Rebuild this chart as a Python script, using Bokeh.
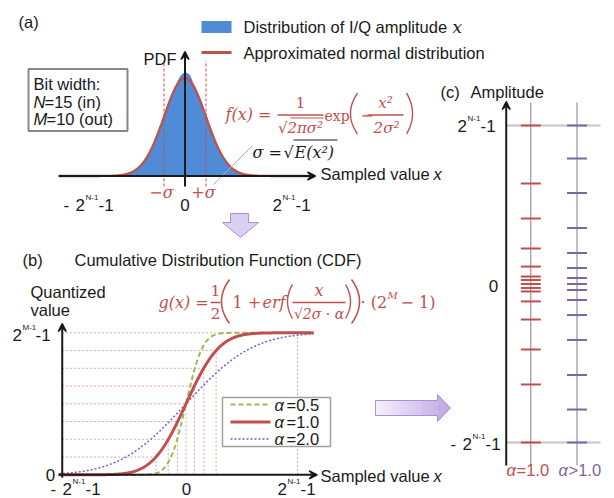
import math
import numpy as np
from bokeh.plotting import figure
from bokeh.models import Range1d, Arrow, VeeHead
from bokeh.core.properties import value
from bokeh.embed import file_html
from bokeh.resources import INLINE

# ---------------- data ----------------
# (a) PDF: amplitude normalised to 2^(N-1)-1, density normalised to the fitted peak
N_BITS_IN = 15
M_BITS_OUT = 10
SIGMA_A = 0.2
HIST_X = list(np.round(np.linspace(-0.7, 0.7, 57), 4))
HIST_Y = [0.003, 0.004, 0.006, 0.009, 0.012, 0.018, 0.025, 0.035, 0.047, 0.064,
          0.085, 0.110, 0.142, 0.180, 0.226, 0.277, 0.335, 0.398, 0.468, 0.540,
          0.612, 0.688, 0.762, 0.840, 0.905, 0.960, 1.015, 1.045, 1.060, 1.050,
          1.030, 0.960, 0.890, 0.822, 0.745, 0.670, 0.600, 0.530, 0.460, 0.392,
          0.330, 0.272, 0.222, 0.178, 0.140, 0.108, 0.083, 0.062, 0.046, 0.034,
          0.024, 0.017, 0.012, 0.008, 0.005, 0.004, 0.002]

# (b) CDF: quantised value normalised to 2^(M-1)-1
SIGMA_B = 0.235
ALPHAS = [0.5, 1.0, 2.0]
ALPHA_LABELS = ["=0.5", "=1.0", "=2.0"]
QUANT_LEVELS = [0.125, 0.25, 0.375, 0.5, 0.625, 0.75, 0.875, 1.0]
LEVEL_X = [-0.27, -0.16, -0.075, 0.0, 0.075, 0.16, 0.27, 1.0]

# (c) reconstructed amplitude levels, normalised to 2^(N-1)-1
LEVELS_ALPHA1 = [-1.0, -0.634, -0.413, -0.224, -0.110, -0.047, -0.025, 0.0,
                 0.025, 0.047, 0.110, 0.224, 0.413, 0.634, 1.0]
LEVELS_ALPHA_GT1 = [-1.0, -0.792, -0.574, -0.353, -0.196, -0.101, -0.038, 0.0,
                    0.038, 0.101, 0.196, 0.353, 0.574, 0.792, 1.0]

# ---------------- style ----------------
INK = "#1a1a1a"
RED = "#c0504d"
BLUE = "#4f8bd6"
GREEN = "#9bbb59"
VIOLET = "#6f60c8"
PURPLE = "#8064a2"
GRID = "#e8a0a0"
SANS = "Liberation Sans"
SERIF = "DejaVu Serif"
FS = 16.5

W, H = 614, 498
p = figure(width=W, height=H, x_range=Range1d(0, W), y_range=Range1d(H, 0),
           x_axis_location=None, y_axis_location=None,
           output_backend="svg", toolbar_location=None, min_border=0)
p.grid.visible = False
p.outline_line_color = None


def lin_range(p0, v0, p1, v1, pa, pb):
    k = (v1 - v0) / (p1 - p0)
    return Range1d(start=v0 + (pa - p0) * k, end=v0 + (pb - p0) * k)


p.extra_x_ranges = {
    "xa": lin_range(184.5, 0.0, 289.5, 1.0, 0, W),
    "xb": lin_range(185.5, 0.0, 297.0, 1.0, 0, W),
    "xc": lin_range(530.3, 0.0, 576.5, 1.0, 0, W),
}
p.extra_y_ranges = {
    "ya": lin_range(175.5, 0.0, 77.7, 1.0, H, 0),
    "yb": lin_range(474.3, 0.0, 332.3, 1.0, H, 0),
    "yc": lin_range(283.5, 0.0, 125.0, 1.0, H, 0),
}
A = dict(x_range_name="xa", y_range_name="ya")
B = dict(x_range_name="xb", y_range_name="yb")
C = dict(x_range_name="xc", y_range_name="yc")


def T(x, y, s, size=FS, color=INK, font=SANS, style="normal", align="left"):
    p.text(x=[x], y=[y], text=[s], text_font=value(font),
           text_font_size=value(f"{size}px"), text_font_style=style,
           text_color=color, text_align=align, text_baseline="middle")


def pow_label(x2, y, sup, minus=False, color=INK):
    if minus:
        T(x2 - 12, y, "-", 17, color)
    T(x2, y, "2", 17, color)
    T(x2 + 10, y - 7, sup, 8, color)
    T(x2 + 23, y, "-1", 17, color)


def arrow(x0, y0, x1, y1, rng, lw=2):
    p.add_layout(Arrow(end=VeeHead(size=8, line_width=1.5, line_color=INK),
                       x_start=x0, y_start=y0, x_end=x1, y_end=y1,
                       line_width=lw, line_color=INK, **rng))


def paren(x0, x1, yc, h, side, color, lw=1.4):
    t = np.linspace(-1, 1, 41)
    ys = yc + t * h / 2
    bulge = 1 - t ** 2
    xs = x1 - (x1 - x0) * bulge if side == "(" else x0 + (x1 - x0) * bulge
    p.line(xs, ys, line_color=color, line_width=lw)


def seg(x0, y0, x1, y1, color, lw=1.0):
    p.segment(x0=[x0], y0=[y0], x1=[x1], y1=[y1], line_color=color, line_width=lw)


# ================= panel (a) =================
p.varea(x=HIST_X, y1=[0] * len(HIST_X), y2=HIST_Y, fill_color=BLUE, **A)
arrow(-1.205, 0, 1.243, 0, A)
arrow(0, -0.107, 0, 1.273, A)
xa = np.linspace(-1.2, 1.2, 481)
p.line(xa, np.exp(-xa ** 2 / (2 * SIGMA_A ** 2)), line_color=RED, line_width=2.3, **A)
p.segment(x0=[-SIGMA_A, SIGMA_A], y0=[-0.107, -0.107], x1=[-SIGMA_A, SIGMA_A],
          y1=[1.18, 1.18], line_color=RED, line_width=1, line_dash="3 2", **A)

T(18, 21, "(a)")
p.quad(left=[201], right=[231], top=[20.5], bottom=[32.5], fill_color=BLUE, line_color=None)
seg(201, 52, 231, 52, RED, 3)
T(243, 26.5, "Distribution of I/Q amplitude")
T(452, 26.5, "x", 17, INK, SERIF, "italic")
T(243, 52, "Approximated normal distribution")
T(176, 58, "PDF", align="right")

p.quad(left=[28], right=[127], top=[68.5], bottom=[130.5], fill_color="white",
       line_color="#888888", line_width=2)
T(33, 83, "Bit width:")
T(33, 101, "N", style="italic")
T(44, 101, f"={N_BITS_IN} (in)")
T(33, 118, "M", style="italic")
T(46, 118, f"={M_BITS_OUT} (out)")

# f(x) formula
T(225, 114, "f(x) =", 16, RED, SERIF, "italic")
T(300, 102, "1", 15, RED, SERIF, align="center")
seg(277, 114.5, 323, 114.5, RED, 1.5)
T(300, 127, "√2πσ²", 15, RED, SERIF, "italic", "center")
seg(290, 117.5, 323, 117.5, RED, 1)
T(324, 115, "exp", 14, RED, SERIF)
paren(350, 357, 113, 41, "(", RED)
T(360, 114, "−", 16, RED, SERIF)
T(385, 102, "x²", 15, RED, SERIF, "italic", "center")
seg(367, 114.5, 403, 114.5, RED, 1.5)
T(386, 127, "2σ²", 15, RED, SERIF, "italic", "center")
paren(406, 412, 113, 41, ")", RED)

# sigma definition
seg(213, 184, 252, 145, "#b0b0b0", 1)
T(252, 152, "σ =", 16, INK, SERIF, "italic")
T(283, 152, "√", 16, INK, SERIF)
T(294, 152, "E(x²)", 16, INK, SERIF, "italic")
seg(293, 139.5, 337, 139.5, INK, 1.2)

T(161, 192, "−σ", 16, RED, SERIF, "italic", "center")
T(203, 192, "+σ", 16, RED, SERIF, "italic", "center")
T(320, 173, "Sampled value")
T(433, 173, "x", style="italic")
pow_label(75, 204, "N-1", minus=True)
T(184.5, 204, "0", 17, align="center")
pow_label(272, 204, "N-1")

# down arrow (a) -> (b)
p.patch(x=[230, 248, 248, 258, 240, 222, 230], y=[213, 213, 222, 222, 237, 222, 222],
        fill_color="#dcd0f2", line_color="#a890d4", line_width=1)

# ================= panel (b) =================
ax_b = -1.11
p.segment(x0=[ax_b] * len(QUANT_LEVELS), y0=QUANT_LEVELS, x1=LEVEL_X, y1=QUANT_LEVELS,
          line_color=GRID, line_width=1, line_dash="2 2", **B)
p.segment(x0=LEVEL_X, y0=[0] * len(QUANT_LEVELS), x1=LEVEL_X, y1=QUANT_LEVELS,
          line_color=GRID, line_width=1, line_dash="2 2", **B)
arrow(ax_b, -0.02, ax_b, 1.065, B)
arrow(-1.143, 0, 1.177, 0, B)

xb = np.linspace(-1.14, 1.145, 600)
erf = np.vectorize(math.erf)
styles = {0.5: dict(line_color=GREEN, line_width=2, line_dash="5 3"),
          1.0: dict(line_color=RED, line_width=3),
          2.0: dict(line_color=VIOLET, line_width=1.5, line_dash="2 2")}
for a in [2.0, 0.5, 1.0]:
    yb = 0.5 * (1 + erf(xb / (math.sqrt(2) * SIGMA_B * a)))
    p.line(xb, yb, **styles[a], **B)

T(22, 259, "(b)")
T(74, 259, "Cumulative Distribution Function (CDF)")
T(30, 291, "Quantized")
T(30, 309, "value")
pow_label(12, 334, "M-1")
T(50, 474, "0", 17, align="center")
pow_label(62, 488, "N-1", minus=True)
T(186, 488, "0", 17, align="center")
pow_label(277, 488, "N-1")
T(320, 475, "Sampled value")
T(433, 475, "x", style="italic")

# g(x) formula
T(158, 302, "g(x) =", 16, RED, SERIF, "italic")
T(215, 290, "1", 15, RED, SERIF, align="center")
seg(210, 302, 220, 302, RED, 1.3)
T(215, 313, "2", 15, RED, SERIF, align="center")
paren(221, 229, 301, 44, "(", RED, 1.6)
T(232, 302, "1 +", 16, RED, SERIF)
T(262, 302, "erf", 16, RED, SERIF, "italic")
paren(287, 292, 301, 34, "(", RED)
T(318.5, 290, "x", 16, RED, SERIF, "italic", "center")
seg(292, 302, 345, 302, RED, 1.5)
T(318.5, 313, "√2σ · α", 14, RED, SERIF, "italic", "center")
paren(345, 350, 301, 34, ")", RED)
paren(351, 359, 301, 44, ")", RED, 1.6)
T(360, 302, "· (2", 16, RED, SERIF)
T(387, 295, "M", 10, RED, SERIF, "italic")
T(400, 302, "− 1)", 16, RED, SERIF)

# legend (b)
p.quad(left=[222], right=[330], top=[397], bottom=[446], fill_color="white",
       line_color="#a0a0a0", line_width=1.5)
for a, lab, yy in zip(ALPHAS, ALPHA_LABELS, [404, 421.5, 438.5]):
    p.segment(x0=[230], y0=[yy], x1=[270], y1=[yy], **styles[a])
    T(274, yy, "α", style="italic")
    T(286, yy, lab)

# right arrow (b) -> (c) with gradient
n = 16
c0, c1 = np.array([244, 240, 251]), np.array([200, 182, 232])
edges = np.linspace(375, 437, n + 1)
cols = ["#%02x%02x%02x" % tuple(int(v) for v in (c0 + (c1 - c0) * (i + 0.5) / n)) for i in range(n)]
p.quad(left=edges[:-1], right=edges[1:] + 0.3, top=[400] * n, bottom=[415] * n,
       fill_color=cols, line_color=None)
p.patch(x=[437, 450, 437], y=[394, 407.5, 421], fill_color="#c4aee4", line_color=None)
p.patch(x=[375, 437, 437, 450, 437, 437, 375], y=[400, 400, 394, 407.5, 421, 415, 415],
        fill_alpha=0, line_color="#a890d4", line_width=1)

# ================= panel (c) =================
ax_c = -0.532
p.segment(x0=[ax_c, ax_c], y0=[1, -1], x1=[1.51, 1.51], y1=[1, -1],
          line_color="#c4c4c4", line_width=2, **C)
p.segment(x0=[0, 1], y0=[-1.145, -1.145], x1=[0, 1], y1=[1.145, 1.145],
          line_color="#808080", line_width=1, **C)
hw = 0.216
p.segment(x0=[-hw] * len(LEVELS_ALPHA1), y0=LEVELS_ALPHA1, x1=[hw] * len(LEVELS_ALPHA1),
          y1=LEVELS_ALPHA1, line_color=RED, line_width=2, **C)
p.segment(x0=[1 - hw] * len(LEVELS_ALPHA_GT1), y0=LEVELS_ALPHA_GT1,
          x1=[1 + hw] * len(LEVELS_ALPHA_GT1), y1=LEVELS_ALPHA_GT1,
          line_color=PURPLE, line_width=2, **C)
arrow(ax_c, -1.145, ax_c, 1.151, C)

T(440, 91, "(c)")
T(470, 91, "Amplitude")
pow_label(457, 125, "N-1")
T(493, 285, "0", 17, align="center")
pow_label(462, 443, "N-1", minus=True)
T(506, 469, "α", color=RED, style="italic")
T(516, 469, "=1.0", color=RED)
T(558, 469, "α", color=PURPLE, style="italic")
T(568, 469, ">1.0", color=PURPLE)

open("out.html", "w").write(file_html(p, INLINE))
